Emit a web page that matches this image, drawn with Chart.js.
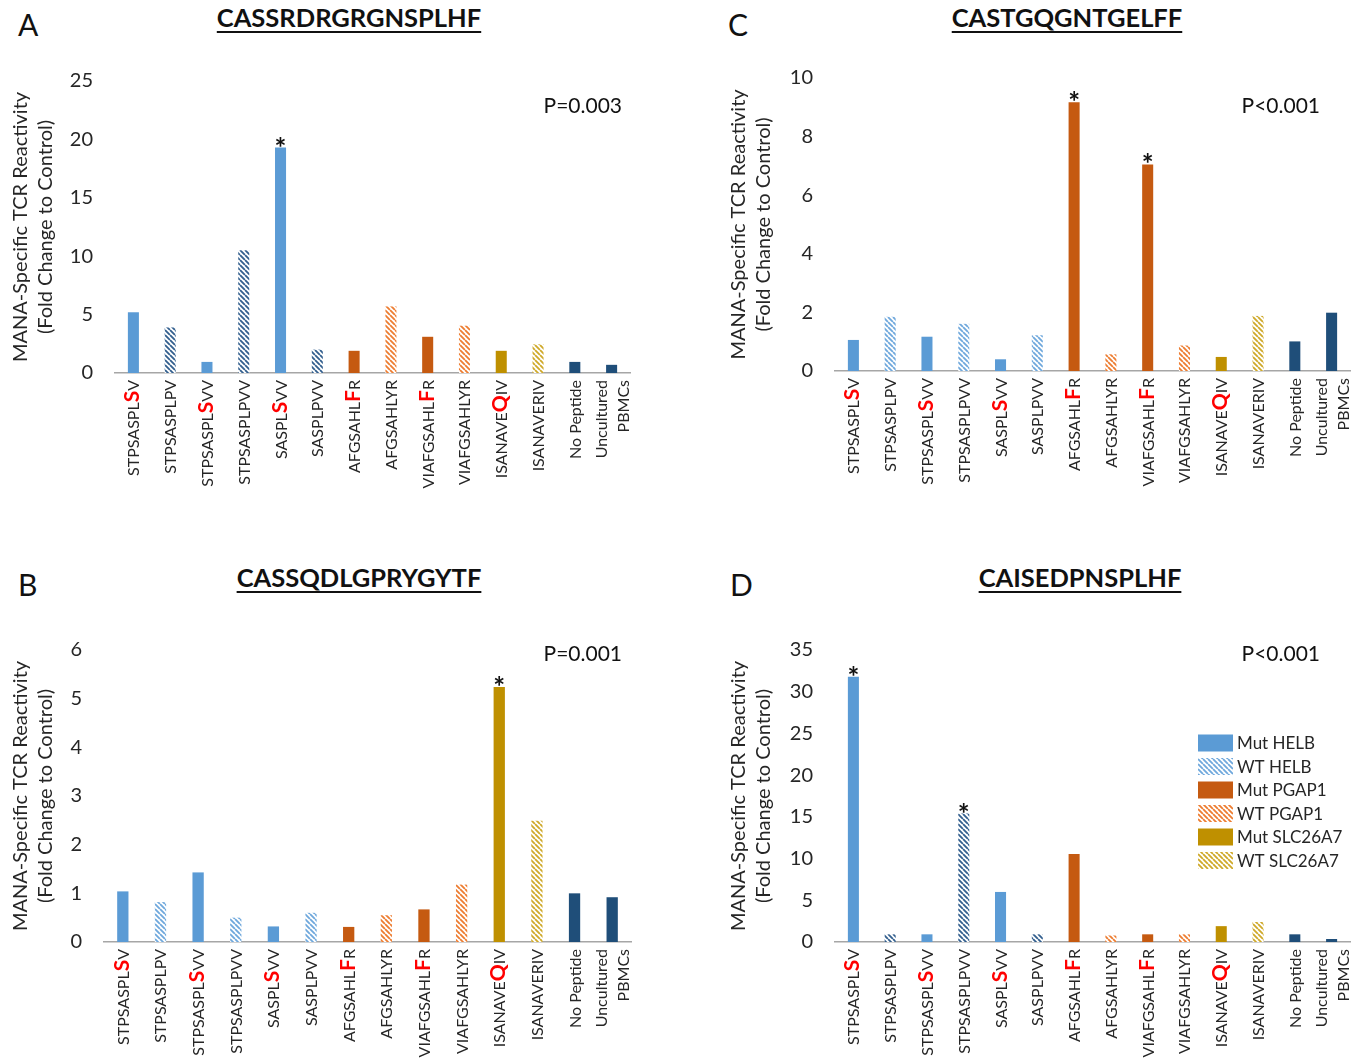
<!DOCTYPE html>
<html>
<head>
<meta charset="utf-8">
<script src="https://cdn.jsdelivr.net/npm/chart.js@4.4.0/dist/chart.umd.min.js"></script>
<style>
body { margin: 0; background: #fff; width: 1363px; height: 1063px; position: relative; overflow: hidden; font-family: Lato, sans-serif; }
canvas { position: absolute; }
.letter { position: absolute; font-size: 30px; color: #111; line-height: 1; }
.ttl { position: absolute; width: 420px; text-align: center; font-weight: bold; font-size: 25.5px; text-decoration: underline; text-decoration-thickness: 2px; text-decoration-skip-ink: none; text-underline-offset: 4px; color: #111; line-height: 1; }
</style>
</head>
<body>
<div class="letter" style="left:18px;top:9px">A</div>
<div class="letter" style="left:18px;top:569px">B</div>
<div class="letter" style="left:728px;top:9px">C</div>
<div class="letter" style="left:730px;top:569px">D</div>
<div class="ttl" style="left:139px;top:5px">CASSRDRGRGNSPLHF</div>
<div class="ttl" style="left:149px;top:565px">CASSQDLGPRYGYTF</div>
<div class="ttl" style="left:857px;top:5px">CASTGQGNTGELFF</div>
<div class="ttl" style="left:870px;top:565px">CAISEDPNSPLHF</div>
<canvas id="chartA" width="690" height="440" style="left:0px;top:50px"></canvas>
<canvas id="chartB" width="690" height="440" style="left:0px;top:619px"></canvas>
<canvas id="chartC" width="645" height="440" style="left:718px;top:47px"></canvas>
<canvas id="chartD" width="645" height="440" style="left:718px;top:619px"></canvas>
<script>
// peptides on the x axis, same order in every panel
const categories = ["STPSASPLSV", "STPSASPLPV", "STPSASPLSVV", "STPSASPLPVV", "SASPLSVV", "SASPLPVV",
	"AFGSAHLFR", "AFGSAHLYR", "VIAFGSAHLFR", "VIAFGSAHLYR", "ISANAVEQIV", "ISANAVERIV",
	"No Peptide", ["Uncultured", "PBMCs"]];
// index of the mutated residue (drawn red), -1 = none
const mutatedPos = [8, -1, 8, -1, 5, -1, 7, -1, 9, -1, 7, -1, -1, -1];
const groups = ["mutHELB", "wtHELB", "mutHELB", "wtHELB", "mutHELB", "wtHELB",
	"mutPGAP1", "wtPGAP1", "mutPGAP1", "wtPGAP1", "mutSLC", "wtSLC", "ctrl", "ctrl"];

const legendNames = ["Mut HELB", "WT HELB", "Mut PGAP1", "WT PGAP1", "Mut SLC26A7", "WT SLC26A7"];

const valuesA = [5.2, 3.9, 0.95, 10.5, 19.3, 2.0, 1.9, 5.7, 3.1, 4.05, 1.9, 2.45, 0.95, 0.7];
const valuesB = [1.04, 0.82, 1.43, 0.5, 0.32, 0.6, 0.31, 0.55, 0.67, 1.18, 5.24, 2.49, 1.0, 0.92];
const valuesC = [1.06, 1.85, 1.17, 1.61, 0.4, 1.22, 9.17, 0.57, 7.05, 0.87, 0.48, 1.88, 1.01, 1.99];
const valuesD = [31.8, 0.92, 0.92, 15.4, 6.0, 0.92, 10.55, 0.78, 0.92, 0.92, 1.9, 2.4, 0.92, 0.36];

const starsA = [4];
const starsB = [10];
const starsC = [6, 8];
const starsD = [0, 3];

const pTexts = ["P=0.003", "P=0.001", "P<0.001", "P<0.001"];
const yMax = [25, 6, 10, 35];
const yStep = [5, 1, 2, 5];

const FONT = "Lato, 'Open Sans', sans-serif";
const TEXT = "#262626";

const hatch = (color) => {
	const c = document.createElement("canvas");
	c.width = 5;
	c.height = 5;
	const x = c.getContext("2d");
	x.fillStyle = "#fff";
	x.fillRect(0, 0, 5, 5);
	x.strokeStyle = color;
	x.lineWidth = 1.8;
	x.beginPath();
	[-5, 0, 5].forEach((k) => {
		x.moveTo(k, 0);
		x.lineTo(k + 5, 5);
	});
	x.stroke();
	return x.createPattern(c, "repeat");
};

const solid = {
	mutHELB: "#5B9BD5",
	mutPGAP1: "#C55A11",
	mutSLC: "#BF9000",
	ctrl: "#1F4E79",
};
const lightHatch = {
	wtHELB: hatch("#6FA8DC"),
	wtPGAP1: hatch("#ED7D31"),
	wtSLC: hatch("#CFA92A"),
};
const darkHatch = Object.assign({}, lightHatch, { wtHELB: hatch("#335F8E") });

const drawLabel = (ctx, text, pos, base) => {
	const parts = pos < 0 ? [[text, false]] : [[text.slice(0, pos), false], [text[pos], true], [text.slice(pos + 1), false]];
	const fontOf = (red) => (red ? "bold 21px " + FONT : "16px " + FONT);
	let total = 0;
	parts.forEach((p) => {
		ctx.font = fontOf(p[1]);
		total += ctx.measureText(p[0]).width;
	});
	let x = -total;
	parts.forEach((p) => {
		ctx.font = fontOf(p[1]);
		ctx.fillStyle = p[1] ? "#FF0000" : TEXT;
		ctx.fillText(p[0], x, base);
		x += ctx.measureText(p[0]).width;
	});
};

const decorations = {
	id: "decorations",
	afterDatasetsDraw(chart, args, opts) {
		const ctx = chart.ctx;
		const area = chart.chartArea;
		const xs = chart.scales.x;
		ctx.save();
		ctx.textAlign = "left";
		ctx.textBaseline = "alphabetic";
		categories.forEach((cat, i) => {
			const lines = Array.isArray(cat) ? cat : [cat];
			ctx.save();
			ctx.translate(xs.getPixelForValue(i), area.bottom + 7);
			ctx.rotate(-Math.PI / 2);
			lines.forEach((line, j) => {
				drawLabel(ctx, line, j == 0 ? mutatedPos[i] : -1, (j - (lines.length - 1) / 2) * 22 + 6);
			});
			ctx.restore();
		});

		// significance stars
		const meta = chart.getDatasetMeta(0);
		ctx.font = "bold 28px " + FONT;
		ctx.fillStyle = "#111";
		ctx.textAlign = "center";
		opts.stars.forEach((i) => {
			const bar = meta.data[i];
			ctx.fillText("*", bar.x, bar.y + 10);
		});

		// p value
		ctx.font = "21px " + FONT;
		ctx.textAlign = "right";
		ctx.textBaseline = "middle";
		ctx.fillStyle = "#111";
		ctx.fillText(opts.pText, opts.pX, opts.pY);

		if (opts.legend) {
			const fills = [solid.mutHELB, lightHatch.wtHELB, solid.mutPGAP1, lightHatch.wtPGAP1, solid.mutSLC, lightHatch.wtSLC];
			ctx.font = "17px " + FONT;
			ctx.textAlign = "left";
			legendNames.forEach((name, k) => {
				const y = opts.legend.y + k * 23.5;
				ctx.fillStyle = fills[k];
				ctx.fillRect(opts.legend.x, y - 8.5, 35, 17);
				ctx.fillStyle = TEXT;
				ctx.fillText(name, opts.legend.x + 39, y + 1);
			});
		}
		ctx.restore();
	},
};

const makeChart = (id, values, idx, stars, dark, lay) => {
	const fills = groups.map((g) => solid[g] || (dark ? darkHatch : lightHatch)[g]);
	return new Chart(document.getElementById(id), {
		type: "bar",
		data: {
			labels: categories,
			datasets: [
				{
					data: values,
					backgroundColor: fills,
					borderWidth: 0,
					barPercentage: 0.3,
					categoryPercentage: 1,
				},
			],
		},
		options: {
			responsive: false,
			animation: false,
			layout: {
				padding: { top: 31, right: lay.right, left: 0, bottom: 0 },
			},
			scales: {
				x: {
					grid: { display: false },
					border: { color: "#A6A6A6", width: 1.5 },
					ticks: { display: false },
					afterFit: (s) => {
						s.height = 440 - lay.bottom;
					},
				},
				y: {
					min: 0,
					max: yMax[idx],
					grid: { display: false },
					border: { display: false },
					ticks: {
						stepSize: yStep[idx],
						padding: 14,
						color: TEXT,
						font: { family: FONT, size: 20 },
					},
					title: {
						display: true,
						text: ["MANA-Specific TCR Reactivity", "(Fold Change to Control)"],
						color: TEXT,
						font: { family: FONT, size: 20, lineHeight: 1.25 },
						padding: { top: 8, bottom: 0 },
					},
					afterFit: (s) => {
						s.width = lay.left;
					},
				},
			},
			plugins: {
				legend: { display: false },
				tooltip: { enabled: false },
				decorations: {
					stars: stars,
					pText: pTexts[idx],
					pX: lay.pX,
					pY: lay.pY,
					legend: lay.legend,
				},
			},
		},
		plugins: [decorations],
	});
};

makeChart("chartA", valuesA, 0, starsA, true, { left: 115, right: 60, bottom: 323, pX: 622, pY: 56 });
makeChart("chartB", valuesB, 1, starsB, false, { left: 104, right: 59, bottom: 323, pX: 622, pY: 35 });
makeChart("chartC", valuesC, 2, starsC, false, { left: 117, right: 13, bottom: 324, pX: 602, pY: 59 });
makeChart("chartD", valuesD, 3, starsD, true, { left: 117, right: 13, bottom: 323, pX: 602, pY: 35, legend: { x: 480, y: 124 } });
</script>
</body>
</html>
